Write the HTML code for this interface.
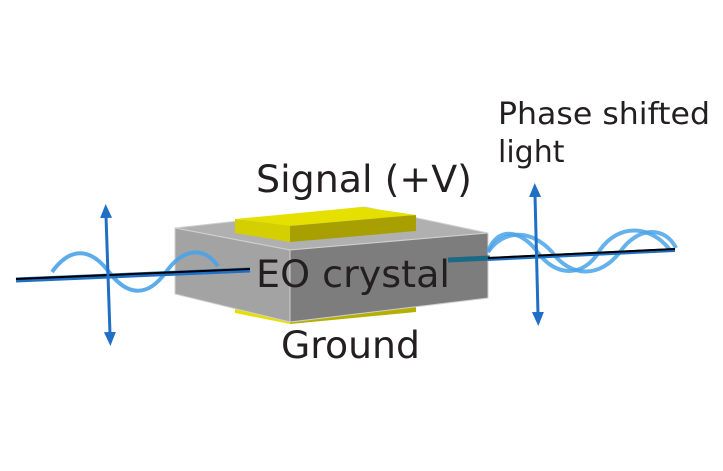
<!DOCTYPE html>
<html><head><style>
html,body{margin:0;padding:0;background:#fff;}
svg{display:block;}
text{font-family:"DejaVu Sans","Liberation Sans",sans-serif;fill:#231f20;}
</style></head><body>
<svg width="723" height="471" viewBox="0 0 723 471" xmlns="http://www.w3.org/2000/svg">
<defs>
<marker id="ah" markerWidth="14" markerHeight="12" refX="2" refY="6" orient="auto-start-reverse" markerUnits="userSpaceOnUse">
<path d="M0,0 L14,6 L0,12 z" fill="#1f6fc5"/>
</marker>
</defs>
<!-- bottom electrode -->
<polygon points="235,306 290,318 290,324 235,313" fill="#e5e000"/>
<polygon points="290,318 416,306 416,312 290,324" fill="#b5b000"/>
<!-- box -->
<polygon points="175,228 365,207 488,233 290,250" fill="#b0b0b0" stroke="#d0d0d0"/>
<polygon points="175,228 290,250 290,322 175,294" fill="#a3a3a3" stroke="#d0d0d0"/>
<polygon points="290,250 488,233 488,298 290,322" fill="#7d7d7d" stroke="#d0d0d0"/>
<!-- top electrode -->
<polygon points="235,219 362,207 416,215 290,226" fill="#e5e000"/>
<polygon points="235,219 290,226 290,242 235,233" fill="#d4cf00"/>
<polygon points="290,226 416,215 416,231 290,242" fill="#a8a000"/>
<!-- left wave -->
<path d="M52,272 C70,247 90,247 109,272 C128,297 148,297 166,272 C184,247 204,247 218,266" fill="none" stroke="#4aa3e8" stroke-width="4" opacity="0.9"/>
<line x1="16" y1="280" x2="250" y2="270" stroke="#1f6fc5" stroke-width="5"/>
<line x1="16" y1="279" x2="250" y2="269" stroke="#000" stroke-width="2"/>
<line x1="106" y1="216" x2="110" y2="334" stroke="#1f6fc5" stroke-width="3" marker-start="url(#ah)" marker-end="url(#ah)"/>
<!-- right -->
<line x1="448" y1="260" x2="490" y2="258" stroke="#1a6a85" stroke-width="5"/>
<path d="M488,252 C496,228 518,228 536,250 C555,278 584,278 600,250 C618,224 650,224 670,250" fill="none" stroke="#4aa3e8" stroke-width="4" opacity="0.85"/>
<path d="M488,252 C503,230 530,228 552,252 C571,278 600,278 620,252 C638,226 665,226 676,248" fill="none" stroke="#4aa3e8" stroke-width="4" opacity="0.85"/>
<line x1="488" y1="259" x2="675" y2="250" stroke="#1f6fc5" stroke-width="4"/>
<line x1="488" y1="258" x2="675" y2="249" stroke="#000" stroke-width="2"/>
<line x1="535" y1="195" x2="538" y2="314" stroke="#1f6fc5" stroke-width="3" marker-start="url(#ah)" marker-end="url(#ah)"/>
<!-- labels -->
<text x="256" y="192" font-size="37" textLength="216" lengthAdjust="spacingAndGlyphs">Signal (+V)</text>
<text x="256" y="287" font-size="37" textLength="194" lengthAdjust="spacingAndGlyphs">EO crystal</text>
<text x="281" y="358" font-size="37" textLength="139" lengthAdjust="spacingAndGlyphs">Ground</text>
<text x="498" y="124" font-size="30" textLength="212" lengthAdjust="spacingAndGlyphs">Phase shifted</text>
<text x="498" y="162" font-size="30">light</text>
</svg>
</body></html>
